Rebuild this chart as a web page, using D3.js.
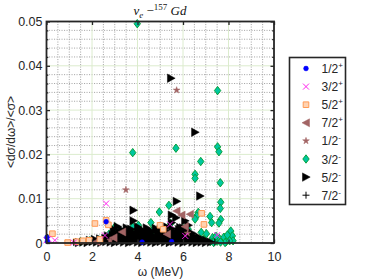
<!DOCTYPE html>
<html><head><meta charset="utf-8">
<script src="https://cdn.jsdelivr.net/npm/d3@7"></script>
<style>body{margin:0;background:#fff}svg{display:block}</style>
</head><body><svg id="c" width="374" height="280"></svg>
<script>
const xTicks = [0,2,4,6,8,10];
const yTicks = [0,0.01,0.02,0.03,0.04,0.05];
const legendLabels = ["1/2","3/2","5/2","7/2","1/2","3/2","5/2","7/2"];
const legendSigns = ["+","+","+","+","-","-","-","-"];

const s12p = [[0.02,0.0013],[0.04,0.0004],[2.62,0.0048],[4.2,0.0002],[5.5,0.0003]];
const s32p = [[0.0,0.0006],[0.08,0.0009],[0.37,0.0006],[2.62,0.0089],[2.57,0.0017],[5.43,0.0042],[7.51,0.0018],[1.2,0.0001],[6.1,0.0016]];
const s52p = [[0.26,0.0021],[0.93,0.0001],[1.3,0.0003],[1.88,0.0006],[2.35,0.0008],[2.13,0.0044],[2.62,0.0051],[2.72,0.0041],[4.99,0.0040],[5.13,0.0031],[6.82,0.0067],[6.92,0.0042],[1.6,0.0005]];
const s72p = [[5.72,0.0072],[5.94,0.0063],[6.31,0.0065],[6.09,0.0037],[3.33,0.0025],[2.95,0.0012],[5.3,0.0020],[2.2,0.0003]];
const s12m = [[5.72,0.0345],[3.49,0.0120],[2.8,0.0006],[6.2,0.0022]];
const s32m = [[3.99,0.0495],[7.52,0.0344],[5.69,0.0214],[7.52,0.0217],[7.58,0.0206],[3.79,0.0204],[6.78,0.0184],[6.53,0.0155],[6.53,0.0146],[7.64,0.0136],
 [7.66,0.0092],[7.64,0.0078],[7.66,0.0053],[7.58,0.0045],[6.67,0.0069],[6.60,0.0061],[7.19,0.0060],[7.26,0.0046],[6.53,0.0054],[5.38,0.0085],[4.96,0.0070],
 [4.59,0.0046],[3.79,0.0036],[3.01,0.0036],[4.08,0.0033],[4.67,0.0029],[5.46,0.0044],[4.04,0.0040],[5.87,0.0031],[4.70,0.0031],[3.11,0.0014],[6.01,0.0032],
 [6.23,0.0031],[6.80,0.0024],[7.03,0.0021],[8.10,0.0027],[8.17,0.0016],[8.20,0.0005],
 [7.3,0.0012],[7.4,0.0008],[7.5,0.0004],[7.6,0.0010],[7.7,0.0006],[7.8,0.0013],[7.9,0.0003],[8.0,0.0009],[7.85,0.0001],[7.65,0.0002],[7.45,0.0015],[7.95,0.0018],[8.05,0.0005],[7.2,0.0003],[7.35,0.0001],
 [1.5,0.0003],[1.9,0.0005],[2.3,0.0007],[2.55,0.0012],[2.75,0.0020],[3.4,0.0022],[3.6,0.0010],[4.3,0.0020],[4.85,0.0014],[5.1,0.0022],[5.6,0.0016],[6.3,0.0018],[6.9,0.0008]];
const s52m = [
 [5.47,0.0372],[6.53,0.0250],[6.75,0.0106],[5.72,0.0094],[3.82,0.0074],[5.50,0.0063],[3.82,0.0050],[5.50,0.0046],[6.09,0.0050],[4.40,0.0034],[6.23,0.0040],[5.87,0.0035],[5.69,0.0057],[4.26,0.0027],[3.23,0.0022],
 [1.42,0.0001],[1.61,0.0002],[1.80,0.0001],[2.02,0.0003],[2.21,0.0002],[2.40,0.0001],[2.62,0.0003],[2.81,0.0002],[3.00,0.0001],[3.21,0.0003],[3.40,0.0002],[3.62,0.0001],[3.80,0.0003],[4.01,0.0002],[4.20,0.0001],[4.41,0.0003],[4.60,0.0002],[4.80,0.0001],[5.01,0.0003],[5.20,0.0002],[5.41,0.0001],[5.60,0.0003],[5.80,0.0002],[6.01,0.0001],[6.20,0.0003],[6.41,0.0002],[6.60,0.0001],[6.81,0.0002],[7.00,0.0001],[7.22,0.0002],
 [1.90,0.0006],[2.12,0.0008],[2.35,0.0009],[2.58,0.0010],[2.80,0.0009],[3.01,0.0010],[3.20,0.0009],[3.41,0.0010],[3.60,0.0009],[3.81,0.0010],[4.00,0.0009],[4.21,0.0010],[4.40,0.0009],[4.61,0.0010],[4.80,0.0009],[5.00,0.0010],[5.21,0.0009],[5.40,0.0010],[5.60,0.0009],[5.81,0.0010],[6.00,0.0009],[6.20,0.0010],[6.41,0.0009],[6.60,0.0008],[6.80,0.0007],[7.02,0.0006],
 [2.70,0.0016],[2.90,0.0017],[3.10,0.0016],[3.31,0.0017],[3.50,0.0016],[3.70,0.0017],[3.91,0.0016],[4.10,0.0017],[4.30,0.0016],[4.51,0.0017],[4.70,0.0016],[4.90,0.0017],[5.11,0.0016],[5.30,0.0017],[5.50,0.0016],[5.71,0.0017],[5.90,0.0016],[6.10,0.0017],[6.31,0.0016],[6.50,0.0015],[6.70,0.0013],
 [3.00,0.0023],[3.21,0.0024],[3.42,0.0023],[3.60,0.0024],[3.82,0.0023],[4.01,0.0024],[4.30,0.0023],[4.62,0.0024],[4.90,0.0023],[5.20,0.0024],[5.41,0.0023],[5.62,0.0025],[5.80,0.0024],[6.01,0.0026],[6.22,0.0024],[6.40,0.0022],
 [3.30,0.0030],[3.72,0.0031],[4.12,0.0030],[4.52,0.0029],[5.02,0.0031],[5.52,0.0032],[5.82,0.0030],[6.12,0.0031],
 [2.95,0.0031],[3.12,0.0037],[3.52,0.0034],[4.02,0.0036],[4.80,0.0033],[5.30,0.0036],[6.00,0.0034]];
const s72m = [[1.2,0.0001],[3.5,0.0004],[7.4,0.0002]];

const svg = d3.select("#c");
const L=46.5, R=274, T=21.5, B=243;
const x = d3.scaleLinear().domain([0,10]).range([L,R]);
const y = d3.scaleLinear().domain([0,0.05]).range([B,T]);
const axisColor = "#262626";
const font = "'Liberation Sans', Arial, sans-serif";

// grid
const g = svg.append("g");
const xMinor = d3.range(0.5,10,0.5).filter(v=>Math.abs(v/2-Math.round(v/2))>1e-9);
const yMinor = d3.range(0.002,0.05,0.002).filter(v=>Math.abs(v/0.01-Math.round(v/0.01))>1e-6);
g.selectAll(".mx").data(xMinor).join("line").attr("x1",d=>x(d)).attr("x2",d=>x(d)).attr("y1",T).attr("y2",B)
 .attr("stroke","#a9a9a9").attr("stroke-dasharray","1.1,1.4").attr("stroke-width",1);
g.selectAll(".my").data(yMinor).join("line").attr("y1",d=>y(d)).attr("y2",d=>y(d)).attr("x1",L).attr("x2",R)
 .attr("stroke","#a9a9a9").attr("stroke-dasharray","1.1,1.4").attr("stroke-width",1);
g.selectAll(".Mx").data(xTicks.slice(1,-1)).join("line").attr("x1",d=>x(d)).attr("x2",d=>x(d)).attr("y1",T).attr("y2",B)
 .attr("stroke","#dcecce").attr("stroke-width",1);
g.selectAll(".My").data(yTicks.slice(1,-1)).join("line").attr("y1",d=>y(d)).attr("y2",d=>y(d)).attr("x1",L).attr("x2",R)
 .attr("stroke","#dcecce").attr("stroke-width",1);

// markers
const shapes = {
 circle: "M2.4,0A2.4,2.4,0,1,1,-2.4,0A2.4,2.4,0,1,1,2.4,0Z",
 cross: "M-3,-3L3,3M-3,3L3,-3",
 square: "M-2.8,-2.8H2.8V2.8H-2.8Z",
 tleft: "M3.5,-4L-4,0L3.5,4Z",
 star: d3.symbol(d3.symbolStar, 14)(),
 diamond: "M0,-4.2L3.2,0L0,4.2L-3.2,0Z",
 tright: "M-3.5,-4.2L4.2,0L-3.5,4.2Z",
 plus: "M-3.5,0H3.5M0,-3.5V3.5"
};
const styles = [
 {data:s12p, shape:"circle", fill:"#0000ff", stroke:"#0000ff", sw:0.5},
 {data:s32p, shape:"cross", fill:"none", stroke:"#ff22ee", sw:1},
 {data:s52p, shape:"square", fill:"#ffd2b0", stroke:"#ff9a55", sw:1},
 {data:s72p, shape:"tleft", fill:"#a26464", stroke:"#a26464", sw:0.5},
 {data:s12m, shape:"star", fill:"#a26464", stroke:"#a26464", sw:0.5},
 {data:s32m, shape:"diamond", fill:"#00c7a0", stroke:"#009a2e", sw:0.9},
 {data:s52m, shape:"tright", fill:"#000", stroke:"#000", sw:0.5},
 {data:s72m, shape:"plus", fill:"none", stroke:"#000", sw:1}
];
const drawOrder = [5,6,4,3,2,1,0,7];
const mg = svg.append("g");
drawOrder.forEach(i=>{
 const s = styles[i];
 mg.append("g").selectAll("path").data(s.data).join("path")
  .attr("d", shapes[s.shape])
  .attr("transform", d=>`translate(${x(d[0])},${y(d[1])})`)
  .attr("fill", s.fill).attr("stroke", s.stroke).attr("stroke-width", s.sw);
});

// axes
const fmtY = d => d===0 ? "0" : d3.format(".2f")(d);
const ax = svg.append("g").attr("transform",`translate(0,${B})`)
 .call(d3.axisBottom(x).tickValues(xTicks).tickSize(-3.5).tickPadding(9.5).tickFormat(d3.format("d")));
const axT = svg.append("g").attr("transform",`translate(0,${T})`)
 .call(d3.axisTop(x).tickValues(xTicks).tickSize(-3.5).tickFormat(""));
const ay = svg.append("g").attr("transform",`translate(${L},0)`)
 .call(d3.axisLeft(y).tickValues(yTicks).tickSize(-3.5).tickPadding(4).tickFormat(fmtY));
const ayR = svg.append("g").attr("transform",`translate(${R},0)`)
 .call(d3.axisRight(y).tickValues(yTicks).tickSize(-3.5).tickFormat(""));
const ayM = svg.append("g").attr("transform",`translate(${L},0)`)
 .call(d3.axisLeft(y).tickValues(yMinor).tickSize(-1.8).tickFormat(""));
const ayMR = svg.append("g").attr("transform",`translate(${R},0)`)
 .call(d3.axisRight(y).tickValues(yMinor).tickSize(-1.8).tickFormat(""));
[ax,axT,ay,ayR,ayM,ayMR].forEach(a=>{
 a.select(".domain").remove();
 a.selectAll("line").attr("stroke",axisColor).attr("stroke-width",1.3);
 a.selectAll("text").attr("fill",axisColor).style("font-family",font).style("font-size","12.5px");
});
svg.append("rect").attr("x",L).attr("y",T).attr("width",R-L).attr("height",B-T)
 .attr("fill","none").attr("stroke",axisColor).attr("stroke-width",1.8);

// title
const title = svg.append("text").attr("x",160).attr("y",15).attr("text-anchor","middle")
 .style("font-family","'Liberation Serif','DejaVu Serif',serif").style("font-size","13px").attr("fill","#111");
title.append("tspan").style("font-style","italic").text("ν");
title.append("tspan").style("font-style","italic").style("font-size","9px").attr("dy",2.5).text("e");
title.append("tspan").attr("dy",-2.5).text(" −");
title.append("tspan").style("font-size","9px").attr("dy",-5).text("157");
title.append("tspan").style("font-style","italic").attr("dy",5).text(" Gd");

// axis labels
svg.append("text").attr("x",160.5).attr("y",276).attr("text-anchor","middle")
 .style("font-family",font).style("font-size","12px").attr("fill",axisColor).text("ω (MeV)");
svg.append("text").attr("transform","translate(15,132) rotate(-90)").attr("text-anchor","middle")
 .style("font-family",font).style("font-size","12px").attr("fill",axisColor).text("<dσ/dω>/<σ>");

// legend
const lg = svg.append("g");
lg.append("rect").attr("x",289.5).attr("y",57.5).attr("width",56).attr("height",147)
 .attr("fill","#fff").attr("stroke",axisColor).attr("stroke-width",1.6);
styles.forEach((s,i)=>{
 const yy = 68.5 + i*18.1;
 lg.append("path").attr("d",shapes[s.shape]).attr("transform",`translate(306,${yy})`)
  .attr("fill",s.fill).attr("stroke",s.stroke).attr("stroke-width",s.sw);
 const t = lg.append("text").attr("x",321.5).attr("y",yy+4.5)
  .style("font-family",font).style("font-size","12px").attr("fill",axisColor);
 t.append("tspan").text(legendLabels[i]);
 t.append("tspan").attr("dy",-5).style("font-size","8px").text(legendSigns[i]);
});
</script></body></html>
